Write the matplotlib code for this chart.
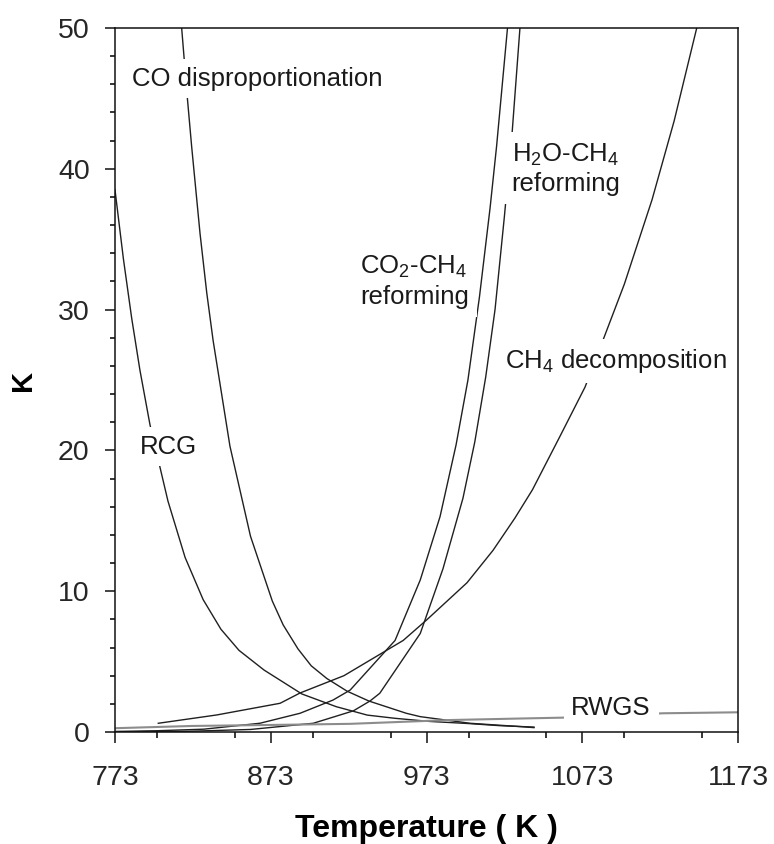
import matplotlib
matplotlib.use("Agg")
import matplotlib.pyplot as plt
from matplotlib.ticker import MultipleLocator

plt.rcParams['font.family'] = ['Liberation Sans', 'DejaVu Sans']
plt.rcParams['mathtext.fontset'] = 'custom'
plt.rcParams['mathtext.rm'] = 'Liberation Sans'
plt.rcParams['mathtext.it'] = 'Liberation Sans'
plt.rcParams['mathtext.bf'] = 'Liberation Sans:bold'

# ---- data ----
rcg_T = [773, 778.4, 783.7, 789, 795.5, 807, 818, 829.6, 841, 852.6, 868.7, 893, 915, 935, 953, 975, 1000, 1020, 1042]
rcg_K = [38.5, 33.6, 29.4, 25.7, 21.8, 16.4, 12.4, 9.4, 7.3, 5.8, 4.4, 2.7, 1.8, 1.2, 0.97, 0.75, 0.6, 0.45, 0.35]

cod_T = [815.8, 819.4, 822.2, 827.6, 831.9, 836, 846.8, 860, 874, 881, 890.5, 899, 909, 922, 936, 960, 969, 1001, 1033.7, 1042]
cod_K = [50, 45.1, 41.6, 35.4, 31.2, 27.8, 20.3, 13.9, 9.3, 7.6, 5.9, 4.7, 3.8, 2.9, 2.2, 1.33, 1.09, 0.62, 0.38, 0.31]

ch4d_T = [800.8, 838.3, 879, 891.8, 920, 958, 973, 999, 1015.7, 1029.8, 1041, 1058.7, 1074.8, 1087.6, 1100, 1117.8, 1132, 1146.5]
ch4d_K = [0.62, 1.21, 2.04, 2.77, 4.0, 6.5, 7.95, 10.6, 12.9, 15.2, 17.2, 21.0, 24.5, 28.2, 31.8, 37.8, 43.4, 50]

co2r_T = [773, 800, 830, 866, 891.8, 913, 924, 952.8, 969, 981.7, 992, 999.6, 1007, 1013.8, 1018, 1025]
co2r_K = [0.04, 0.09, 0.2, 0.62, 1.33, 2.27, 2.98, 6.5, 10.8, 15.3, 20.4, 25.0, 30.9, 37.2, 41.6, 50]

h2or_T = [773, 820, 860, 900.3, 926, 936.7, 943, 969, 983.6, 996.4, 1004, 1011, 1017, 1023, 1028, 1033]
h2or_K = [0.01, 0.05, 0.18, 0.62, 1.5, 2.2, 2.75, 7.0, 11.6, 16.6, 20.6, 25.2, 30.0, 36.6, 42.6, 50]

rwgs_T = [773, 823, 873, 924, 988, 1030, 1060.6, 1125, 1146, 1173]
rwgs_K = [0.27, 0.43, 0.5, 0.58, 0.85, 0.95, 1.02, 1.33, 1.36, 1.40]

x_ticks = [773, 873, 973, 1073, 1173]
y_ticks = [0, 10, 20, 30, 40, 50]

# ---- figure ----
fig = plt.figure(figsize=(7.74, 8.44), dpi=100)
ax = fig.add_axes([115/774, 1-732/844, 623/774, 704/844])

lc = '#202020'
lw = 1.0
ax.plot(rcg_T, rcg_K, color=lc, lw=lw, zorder=2)
ax.plot(cod_T, cod_K, color=lc, lw=lw, zorder=2)
ax.plot(ch4d_T, ch4d_K, color=lc, lw=lw, zorder=2)
ax.plot(co2r_T, co2r_K, color=lc, lw=lw, zorder=2)
ax.plot(h2or_T, h2or_K, color=lc, lw=lw, zorder=2)
ax.plot(rwgs_T, rwgs_K, color='#8c8c8c', lw=1.5, zorder=2)

ax.set_xlim(773, 1173)
ax.set_ylim(0, 50)
ax.set_xticks(x_ticks)
ax.set_yticks(y_ticks)
ax.xaxis.set_minor_locator(MultipleLocator(50))
ax.yaxis.set_minor_locator(MultipleLocator(2))
ax.tick_params(axis='x', which='major', direction='out', length=7.9, width=1.1, pad=16, labelsize=20.5, colors='#111111', labelcolor='#262626')
ax.tick_params(axis='x', which='minor', direction='out', length=4.3, width=1.1)
ax.tick_params(axis='y', which='major', direction='out', length=7.2, width=1.1, pad=11, labelsize=20.5, colors='#111111', labelcolor='#262626')
ax.tick_params(axis='y', which='minor', direction='out', length=3.6, width=1.1)
for s in ax.spines.values():
    s.set_linewidth(1.1)
    s.set_color('#111111')

ax.set_xlabel('Temperature ( K )', fontsize=23, fontweight='bold', va='center')
ax.xaxis.set_label_coords(0.5, (732-829)/704)
ax.set_ylabel('K', fontsize=21, fontweight='bold', va='center')
ax.yaxis.set_label_coords((22.5-115)/623, 0.5)

bb = dict(boxstyle='square,pad=0.3', facecolor='white', edgecolor='none')
tk = dict(fontsize=18.5, color='#1a1a1a', zorder=5, bbox=bb)
ax.text(783.7, 46.4, 'CO disproportionation', ha='left', va='center', **tk)
ax.text(930.3, 32.0, 'CO$_2$-CH$_4$\nreforming', ha='left', va='center', multialignment='left', linespacing=1.25, **tk)
ax.text(1027.6, 40.0, 'H$_2$O-CH$_4$\nreforming', ha='left', va='center', multialignment='left', linespacing=1.25, **tk)
ax.text(1023.4, 26.35, 'CH$_4$ decomposition', ha='left', va='center', **tk)
ax.text(807.2, 20.26, 'RCG', ha='center', va='center', **tk)
ax.text(1091.5, 1.74, 'RWGS', ha='center', va='center', **tk)

fig.savefig('out.png', dpi=100, facecolor='white')
